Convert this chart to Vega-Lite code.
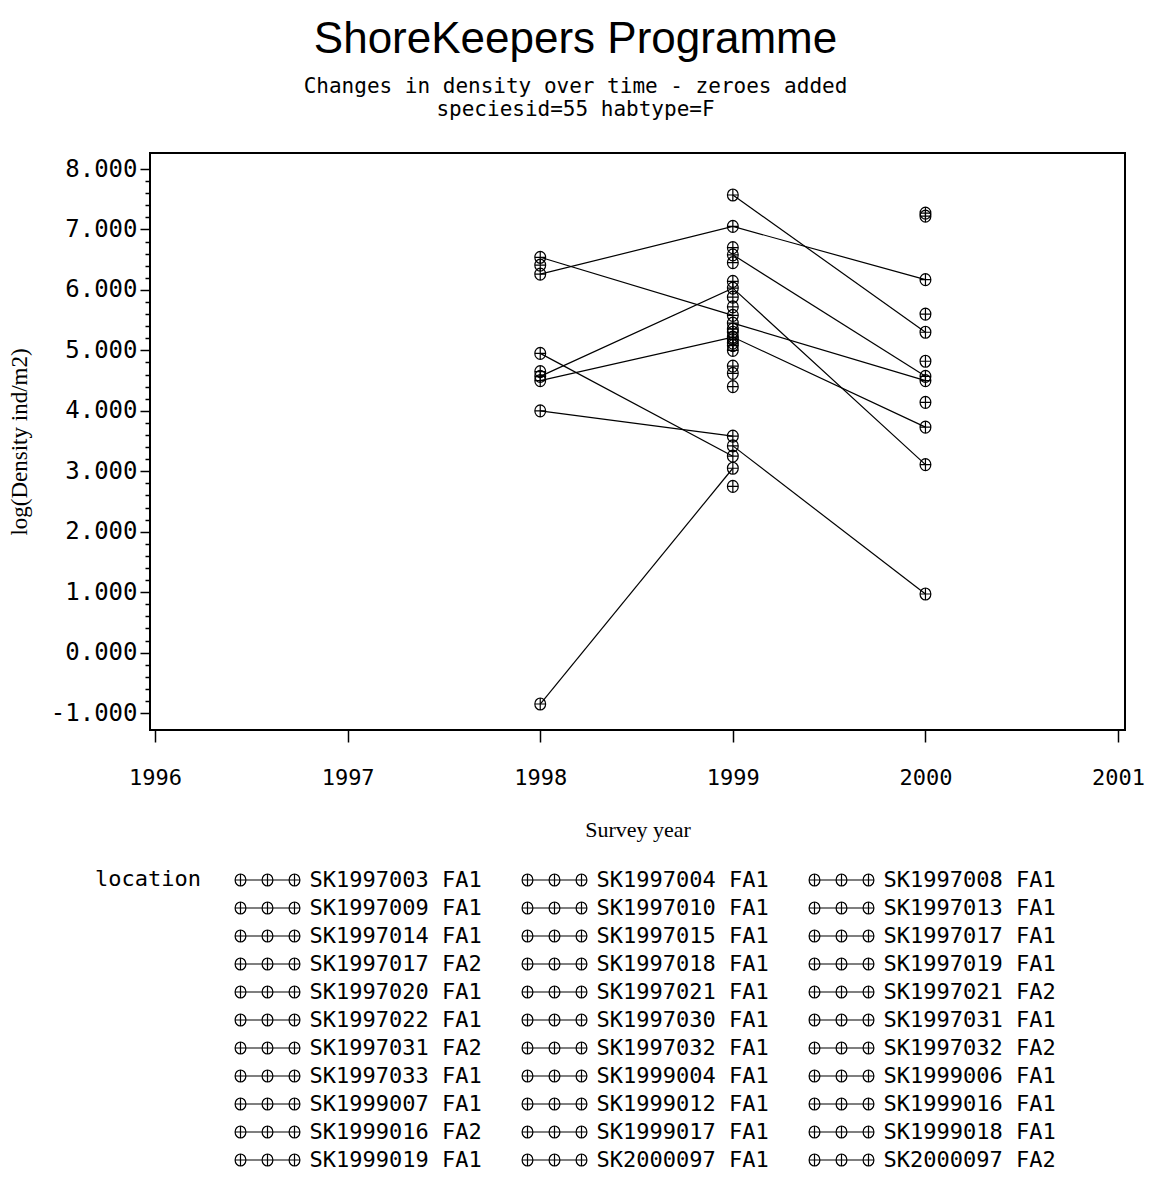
{
  "$schema": "https://vega.github.io/schema/vega-lite/v6.json",
  "autosize": {"type": "none"},
  "width": 975,
  "height": 577,
  "padding": {"left": 150, "top": 153, "right": 26, "bottom": 450},
  "background": "white",
  "title": {
    "text": "ShoreKeepers Programme",
    "subtitle": ["Changes in density over time - zeroes added", "speciesid=55 habtype=F"],
    "anchor": "middle",
    "frame": "group",
    "dx": -62,
    "offset": 33,
    "font": "Liberation Sans",
    "fontSize": 44,
    "fontWeight": "normal",
    "color": "black",
    "subtitleFont": "DejaVu Sans Mono",
    "subtitleFontSize": 21,
    "subtitleColor": "black",
    "subtitleLineHeight": 23,
    "subtitlePadding": 14
  },
  "data": {
    "values": [
      {"location": "SK1997003 FA1", "year": 1998, "value": 6.26},
      {"location": "SK1997003 FA1", "year": 1999, "value": 7.05},
      {"location": "SK1997003 FA1", "year": 2000, "value": 6.17},
      {"location": "SK1997004 FA1", "year": 1998, "value": 6.54},
      {"location": "SK1997004 FA1", "year": 1999, "value": 5.58},
      {"location": "SK1997008 FA1", "year": 1998, "value": 4.57},
      {"location": "SK1997008 FA1", "year": 1999, "value": 6.03},
      {"location": "SK1997008 FA1", "year": 2000, "value": 3.11},
      {"location": "SK1997009 FA1", "year": 1998, "value": 4.5},
      {"location": "SK1997009 FA1", "year": 1999, "value": 5.22},
      {"location": "SK1997009 FA1", "year": 2000, "value": 3.73},
      {"location": "SK1997010 FA1", "year": 1998, "value": 4.95},
      {"location": "SK1997010 FA1", "year": 1999, "value": 3.25},
      {"location": "SK1997013 FA1", "year": 1998, "value": 4.0},
      {"location": "SK1997013 FA1", "year": 1999, "value": 3.58},
      {"location": "SK1997014 FA1", "year": 1998, "value": -0.85},
      {"location": "SK1997014 FA1", "year": 1999, "value": 3.05},
      {"location": "SK1997015 FA1", "year": 1998, "value": 6.41},
      {"location": "SK1997017 FA1", "year": 1998, "value": 4.65},
      {"location": "SK1997017 FA2", "year": 1999, "value": 7.57},
      {"location": "SK1997017 FA2", "year": 2000, "value": 5.3},
      {"location": "SK1997018 FA1", "year": 1999, "value": 6.58},
      {"location": "SK1997018 FA1", "year": 2000, "value": 4.57},
      {"location": "SK1997019 FA1", "year": 1999, "value": 5.45},
      {"location": "SK1997019 FA1", "year": 2000, "value": 4.5},
      {"location": "SK1997020 FA1", "year": 1999, "value": 3.42},
      {"location": "SK1997020 FA1", "year": 2000, "value": 0.97},
      {"location": "SK1997021 FA1", "year": 2000, "value": 5.6},
      {"location": "SK1997021 FA2", "year": 2000, "value": 4.82},
      {"location": "SK1997022 FA1", "year": 2000, "value": 4.14},
      {"location": "SK1997030 FA1", "year": 1999, "value": 6.7},
      {"location": "SK1997031 FA1", "year": 1999, "value": 6.45},
      {"location": "SK1997031 FA2", "year": 1999, "value": 6.14},
      {"location": "SK1997032 FA1", "year": 1999, "value": 5.88},
      {"location": "SK1997032 FA2", "year": 1999, "value": 5.72},
      {"location": "SK1997033 FA1", "year": 1999, "value": 5.35},
      {"location": "SK1999004 FA1", "year": 1999, "value": 5.3},
      {"location": "SK1999006 FA1", "year": 1999, "value": 5.18},
      {"location": "SK1999007 FA1", "year": 1999, "value": 5.12},
      {"location": "SK1999012 FA1", "year": 1999, "value": 5.08},
      {"location": "SK1999016 FA1", "year": 1999, "value": 5.0},
      {"location": "SK1999016 FA2", "year": 1999, "value": 4.74},
      {"location": "SK1999017 FA1", "year": 1999, "value": 4.62},
      {"location": "SK1999018 FA1", "year": 1999, "value": 4.4},
      {"location": "SK1999019 FA1", "year": 1999, "value": 2.75},
      {"location": "SK2000097 FA1", "year": 2000, "value": 7.27},
      {"location": "SK2000097 FA2", "year": 2000, "value": 7.22}
    ]
  },
  "encoding": {
    "x": {
      "field": "year",
      "type": "quantitative",
      "scale": {"domain": [1995.974, 2001.036], "nice": false, "zero": false},
      "axis": {
        "values": [1996, 1997, 1998, 1999, 2000, 2001],
        "format": "d",
        "title": "Survey year",
        "titleFont": "Liberation Serif",
        "titleFontSize": 22,
        "titleFontWeight": "normal",
        "titleColor": "black",
        "titlePadding": 31,
        "labelFont": "DejaVu Sans Mono",
        "labelFontSize": 22,
        "labelColor": "black",
        "labelPadding": 25,
        "labelFlush": false,
        "labelOverlap": false,
        "tickSize": 12,
        "tickWidth": 1.5,
        "tickColor": "black",
        "domain": false,
        "grid": false
      }
    },
    "y": {
      "field": "value",
      "type": "quantitative",
      "scale": {"domain": [-1.28, 8.265], "nice": false, "zero": false},
      "axis": {
        "values": [-1, -0.8, -0.6, -0.4, -0.2, 0, 0.2, 0.4, 0.6, 0.8, 1, 1.2, 1.4, 1.6, 1.8, 2, 2.2, 2.4, 2.6, 2.8, 3, 3.2, 3.4, 3.6, 3.8, 4, 4.2, 4.4, 4.6, 4.8, 5, 5.2, 5.4, 5.6, 5.8, 6, 6.2, 6.4, 6.6, 6.8, 7, 7.2, 7.4, 7.6, 7.8, 8],
        "labelExpr": "abs(datum.value - round(datum.value)) < 0.01 ? replace(format(datum.value, '.3f'), '\u2212', '-') : ''",
        "title": "log(Density ind/m2)",
        "titleFont": "Liberation Serif",
        "titleFontSize": 23,
        "titleFontWeight": "normal",
        "titleColor": "black",
        "titlePadding": 19,
        "labelFont": "DejaVu Sans Mono",
        "labelFontSize": 24,
        "labelColor": "black",
        "labelPadding": 3,
        "labelFlush": false,
        "labelOverlap": false,
        "tickSize": {"condition": {"test": "abs(datum.value - round(datum.value)) < 0.01", "value": 10}, "value": 5},
        "tickWidth": 1.5,
        "tickColor": "black",
        "domain": false,
        "grid": false
      }
    },
    "color": {
      "field": "location",
      "type": "nominal",
      "scale": {"range": ["black"]},
      "legend": {
        "orient": "none",
        "legendX": -55,
        "legendY": 716,
        "columns": 3,
        "direction": "horizontal",
        "padding": 0,
        "symbolLimit": 50,
        "title": "location",
        "titleOrient": "left",
        "titleAnchor": "start",
        "titleBaseline": "top",
        "titlePadding": 34,
        "titleFont": "DejaVu Sans Mono",
        "titleFontSize": 22,
        "titleFontWeight": "normal",
        "titleColor": "black",
        "labelFont": "DejaVu Sans Mono",
        "labelFontSize": 22,
        "labelColor": "black",
        "labelLimit": 0,
        "labelOffset": 31,
        "symbolType": "M-5.4,0 L5.4,0 M-4.5,-1 L-4.5,1 M0,-1 L0,1 M4.5,-1 L4.5,1 M-5.4,0 A0.9,1 0 1,1 -3.6,0 A0.9,1 0 1,1 -5.4,0 M-0.9,0 A0.9,1 0 1,1 0.9,0 A0.9,1 0 1,1 -0.9,0 M3.6,0 A0.9,1 0 1,1 5.4,0 A0.9,1 0 1,1 3.6,0",
        "symbolSize": 144,
        "symbolOffset": 21.5,
        "symbolStrokeWidth": 1.2,
        "symbolStrokeColor": "black",
        "symbolFillColor": "transparent",
        "symbolOpacity": 1,
        "rowPadding": 6,
        "columnPadding": 37
      }
    }
  },
  "layer": [
    {"mark": {"type": "line", "strokeWidth": 1.2}},
    {"mark": {"type": "point", "shape": "M-0.9,0 A0.9,1 0 1,1 0.9,0 A0.9,1 0 1,1 -0.9,0 M-0.9,0 L0.9,0 M0,-1 L0,1", "size": 144, "filled": false, "strokeWidth": 1.2, "opacity": 1}}
  ],
  "config": {
    "view": {"stroke": "black", "strokeWidth": 2},
    "axis": {"grid": false}
  }
}
